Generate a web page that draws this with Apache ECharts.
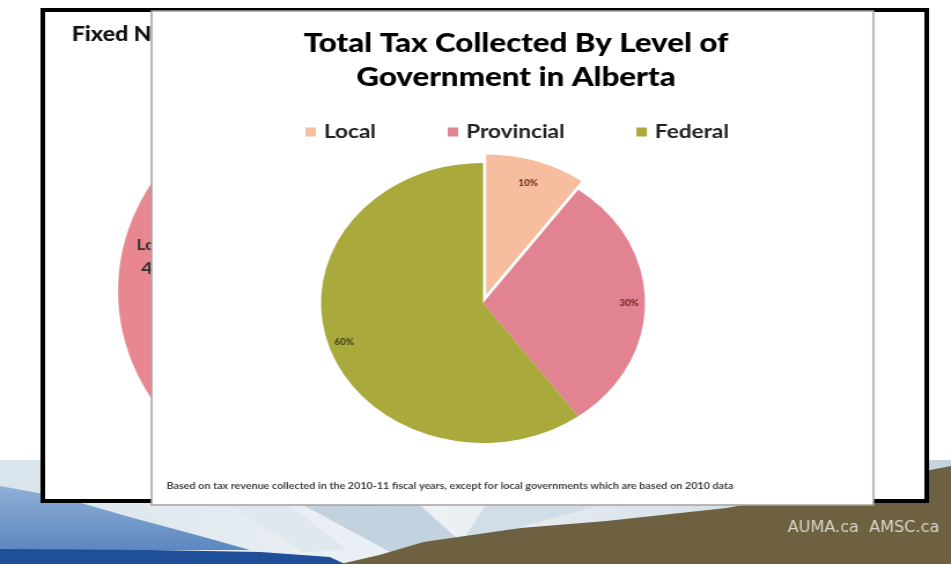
<!DOCTYPE html>
<html>
<head>
<meta charset="utf-8">
<script src="https://cdn.jsdelivr.net/npm/echarts@6/dist/echarts.min.js"></script>
<style>
html,body{margin:0;padding:0;background:#fff;overflow:hidden;}
#chart{width:822px;height:564px;transform:scaleX(1.15693);transform-origin:0 0;}
</style>
</head>
<body>
<div id="chart"></div>
<script>
// ---- data ----
const categories = ['Local', 'Provincial', 'Federal'];
const shares = [10, 30, 60];
const sliceColors = ['#f6bd9f', '#e28391', '#a9aa3b'];
const labelColors = ['#7b2d26', '#7b2d26', '#4a4420'];
const titleText = 'Total Tax Collected By Level of\nGovernment in Alberta';
const footnote = 'Based on tax revenue collected in the 2010-11 fiscal years, except for local governments which are based on 2010 data';

const chart = echarts.init(document.getElementById('chart'), null, {renderer: 'canvas'});

const pieData = categories.map((c, i) => ({
  name: c,
  value: shares[i],
  selected: i === 0,
  itemStyle: {color: sliceColors[i]}
}));
const labelData = categories.map((c, i) => ({
  name: c,
  value: shares[i],
  itemStyle: {color: 'rgba(0,0,0,0)'},
  label: {color: labelColors[i]}
}));

const R = 140;
const C = [417.5, 303];

const option = {
  backgroundColor: '#ffffff',
  animation: false,
  graphic: [
    // bottom banner
    {type: 'rect', z: 0, shape: {x: 0, y: 460, width: 822, height: 104},
      style: {fill: new echarts.graphic.LinearGradient(0,0,1,0,[{offset:0,color:'#d9e4ec'},{offset:0.45,color:'#eef2f5'},{offset:1,color:'#c4d3de'}])}},
    {type: 'polygon', z: 0, shape: {points: [[200,505],[250,505],[300,550],[262,552]]}, style: {fill: '#dfe8ef'}},
    {type: 'polygon', z: 0, shape: {points: [[262,505],[363,505],[406,550],[337,552]]}, style: {fill: '#c2d2de'}},
    {type: 'polygon', z: 0, shape: {points: [[420,505],[520,505],[440,530],[400,540]]}, style: {fill: '#d2dee7'}},
    {type: 'polygon', z: 0, shape: {points: [[0,486],[52,497],[112,517],[173,536],[216,550],[0,550]]},
      style: {fill: new echarts.graphic.LinearGradient(0,0,0,1,[{offset:0,color:'#8fb0d8'},{offset:1,color:'#5d87c0'}])}},
    {type: 'polygon', z: 0, shape: {points: [[0,549],[130,550],[225,552],[285,557],[298,564],[0,564]]}, style: {fill: '#1f4f98'}},
    {type: 'polygon', z: 0, shape: {points: [[822,466],[760,480],[628,508],[524,521],[450,528],[366,542],[328,555],[294,564],[822,564]]}, style: {fill: '#6d6141'}},
    // back slide
    {type: 'rect', z: 1, shape: {x: 37, y: 10, width: 764, height: 491}, style: {fill: '#ffffff', stroke: '#000000', lineWidth: 4}},
    {type: 'circle', z: 1, shape: {cx: 317, cy: 291, r: 215}, style: {fill: '#e8878f'}},
    {type: 'text', z: 1, style: {text: 'Fixed N', x: 62, y: 35, verticalAlign: 'middle', font: '900 20px Lato, "Open Sans", sans-serif', fill: '#111'}},
    {type: 'text', z: 1, style: {text: 'Local', x: 118, y: 245, verticalAlign: 'middle', font: 'bold 15px Lato, sans-serif', fill: '#333'}},
    {type: 'text', z: 1, style: {text: '4', x: 122, y: 269, verticalAlign: 'middle', font: 'bold 17px Lato, sans-serif', fill: '#333'}},
    // front slide
    {type: 'rect', z: 1, shape: {x: 131, y: 11, width: 624, height: 494}, style: {fill: '#ffffff', stroke: '#a9a0a0', lineWidth: 1.5}},
    {type: 'text', z: 1, style: {text: footnote, x: 144, y: 486, verticalAlign: 'middle', font: 'bold 9.3px Lato, sans-serif', fill: '#444'}},
    {type: 'text', z: 1, style: {text: 'AUMA.ca  AMSC.ca', x: 812, y: 528, align: 'right', verticalAlign: 'middle', font: '15.5px "DejaVu Sans Condensed", "Liberation Sans Narrow", sans-serif', fill: '#d9d5c9'}}
  ],
  title: {
    text: titleText,
    left: 441,
    top: 21,
    textAlign: 'center',
    textStyle: {fontFamily: 'Lato', fontWeight: 900, fontSize: 27, lineHeight: 34, color: '#000'}
  },
  legend: {
    data: categories,
    top: 117,
    left: 259,
    itemGap: 62,
    itemWidth: 9,
    itemHeight: 9,
    icon: 'rect',
    textStyle: {fontFamily: 'Lato', fontWeight: 'bold', fontSize: 19.5, color: '#222', padding: [0,0,0,2]}
  },
  series: [
    {
      type: 'pie',
      center: C,
      radius: [0, R],
      startAngle: 90,
      clockwise: true,
      selectedMode: 'single',
      selectedOffset: 9,
      silent: true,
      label: {show: false},
      labelLine: {show: false},
      itemStyle: {borderWidth: 0},
      emphasis: {disabled: true},
      data: pieData
    },
    {
      type: 'pie',
      center: C,
      radius: [R * 0.76, R],
      startAngle: 90,
      clockwise: true,
      silent: true,
      z: 3,
      label: {show: true, position: 'inside', formatter: '{c}%', fontFamily: 'Lato', fontWeight: 900, fontSize: 8.5},
      labelLine: {show: false},
      emphasis: {disabled: true},
      data: labelData
    }
  ]
};
chart.setOption(option);
</script>
</body>
</html>
